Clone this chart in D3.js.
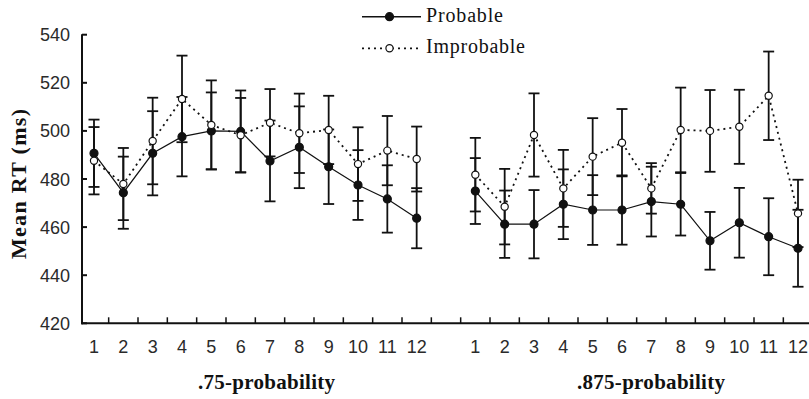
<!DOCTYPE html>
<html><head><meta charset="utf-8">
<script src="https://cdn.jsdelivr.net/npm/d3@7"></script>
<style>body{margin:0;background:#fff}svg{display:block}</style>
</head><body>
<svg id="c" width="809" height="399"></svg>
<script>
const blocks = ["1","2","3","4","5","6","7","8","9","10","11","12"];
const conditions = [".75-probability", ".875-probability"];
const seriesNames = ["Probable", "Improbable"];
const probable75   = [490.7, 474.3, 490.7, 497.6, 500.0, 499.8, 487.5, 493.2, 485.1, 477.5, 471.7, 463.7];
const improbable75 = [487.6, 477.9, 495.8, 513.3, 502.5, 498.2, 503.4, 499.0, 500.4, 486.2, 491.8, 488.3];
const probableErr75   = [14, 15, 17.5, 16.5, 16, 17, 16.8, 17, 15.5, 14.5, 14, 12.5];
const improbableErr75 = [14, 15, 18, 18, 18.5, 15.5, 14, 16.5, 14.2, 15.3, 14.4, 13.5];
const probable875   = [475.0, 461.2, 461.2, 469.5, 467.1, 467.1, 470.6, 469.5, 454.3, 461.8, 456.0, 451.2];
const improbable875 = [481.8, 468.5, 498.3, 476.1, 489.3, 495.1, 476.1, 500.4, 500.0, 501.7, 514.6, 465.7];
const probableErr875   = [13.7, 14, 14.2, 14.5, 14.5, 14.4, 14.5, 13, 12, 14.5, 16, 16];
const improbableErr875 = [15.3, 15.7, 17.3, 16, 16, 14, 10.5, 17.6, 17, 15.4, 18.4, 14];
const yTicks = [420, 440, 460, 480, 500, 520, 540];

const svg = d3.select("#c");
const ink = "#111";

// slots: 12 blocks, a gap, 12 blocks
const slots = [];
conditions.forEach((c, ci) => {
  blocks.forEach(b => slots.push(ci + "-" + b));
  if (ci === 0) slots.push("gap");
});
const x = d3.scalePoint().domain(slots).range([94, 798]);
const y = d3.scaleLinear().domain([420, 540]).range([323.3, 34.7]);

const groupsData = [
  {cond: 0, series: [
    {name: seriesNames[0], vals: probable75, err: probableErr75},
    {name: seriesNames[1], vals: improbable75, err: improbableErr75}]},
  {cond: 1, series: [
    {name: seriesNames[0], vals: probable875, err: probableErr875},
    {name: seriesNames[1], vals: improbable875, err: improbableErr875}]}
];

// axes
const axisX0 = 82, axisX1 = 809;
svg.append("line").attr("x1", axisX0).attr("x2", axisX0)
  .attr("y1", y(540) - 0.5).attr("y2", y(420) + 1)
  .attr("stroke", ink).attr("stroke-width", 2);
svg.append("line").attr("x1", axisX0 - 1).attr("x2", axisX1)
  .attr("y1", y(420)).attr("y2", y(420))
  .attr("stroke", ink).attr("stroke-width", 2);

// y ticks & labels
yTicks.forEach(t => {
  svg.append("line").attr("x1", axisX0).attr("x2", axisX0 + 5)
    .attr("y1", y(t)).attr("y2", y(t)).attr("stroke", ink).attr("stroke-width", 2);
  svg.append("text").attr("x", 70).attr("y", y(t) + 6.5)
    .attr("text-anchor", "end").attr("font-family", "Liberation Sans, Arial, sans-serif")
    .attr("font-size", 18).attr("fill", "#2a2a2a").text(t);
});

// x ticks between consecutive slots (inward)
for (let i = 0; i < slots.length - 1; i++) {
  const xm = (x(slots[i]) + x(slots[i + 1])) / 2;
  svg.append("line").attr("x1", xm).attr("x2", xm)
    .attr("y1", y(420)).attr("y2", y(420) - 6)
    .attr("stroke", ink).attr("stroke-width", 1.5);
}
// x tick labels
conditions.forEach((c, ci) => {
  blocks.forEach(b => {
    svg.append("text").attr("x", x(ci + "-" + b)).attr("y", 353)
      .attr("text-anchor", "middle").attr("font-family", "Liberation Sans, Arial, sans-serif")
      .attr("font-size", 18).attr("fill", "#2a2a2a").text(b);
  });
});
// condition labels
const condX = [198, 577], condW = [137, 148];
conditions.forEach((c, ci) => {
  svg.append("text").attr("x", condX[ci]).attr("y", 389)
    .attr("font-family", "Liberation Serif, Times New Roman, serif")
    .attr("font-weight", "bold").attr("font-size", 21)
    .attr("textLength", condW[ci]).attr("lengthAdjust", "spacing")
    .attr("fill", ink).text(c);
});

// y axis title
svg.append("text").attr("transform", "translate(26,184) rotate(-90)")
  .attr("text-anchor", "middle")
  .attr("font-family", "Liberation Serif, Times New Roman, serif")
  .attr("font-weight", "bold").attr("font-size", 22)
  .attr("textLength", 150).attr("lengthAdjust", "spacing")
  .attr("fill", ink).text("Mean RT (ms)");

// lines
const lineGen = d3.line().x(d => d.x).y(d => d.y);
groupsData.forEach(g => {
  g.series.forEach((s, si) => {
    const pts = s.vals.map((v, i) => ({x: x(g.cond + "-" + blocks[i]), y: y(v)}));
    svg.append("path").attr("d", lineGen(pts)).attr("fill", "none")
      .attr("stroke", ink)
      .attr("stroke-width", si === 0 ? 1.2 : 1.8)
      .attr("stroke-dasharray", si === 0 ? null : "2,4");
  });
});
// error bars
groupsData.forEach(g => {
  g.series.forEach(s => {
    s.vals.forEach((v, i) => {
      const cx = x(g.cond + "-" + blocks[i]);
      const e = s.err[i];
      const eg = svg.append("g").attr("stroke", ink).attr("stroke-width", 1.8);
      eg.append("line").attr("x1", cx).attr("x2", cx).attr("y1", y(v + e)).attr("y2", y(v - e));
      [v + e, v - e].forEach(w => {
        eg.append("line").attr("x1", cx - 5.5).attr("x2", cx + 5.5).attr("y1", y(w)).attr("y2", y(w));
      });
    });
  });
});
// markers
groupsData.forEach(g => {
  g.series.forEach((s, si) => {
    s.vals.forEach((v, i) => {
      svg.append("circle").attr("cx", x(g.cond + "-" + blocks[i])).attr("cy", y(v))
        .attr("r", si === 0 ? 4 : 3.6)
        .attr("fill", si === 0 ? ink : "#fff")
        .attr("stroke", ink).attr("stroke-width", 1.2);
    });
  });
});

// legend
const legY = [16.7, 48.3];
seriesNames.forEach((n, si) => {
  svg.append("line").attr("x1", 362).attr("x2", 421)
    .attr("y1", legY[si]).attr("y2", legY[si])
    .attr("stroke", ink).attr("stroke-width", si === 0 ? 1.6 : 1.8)
    .attr("stroke-dasharray", si === 0 ? null : "2,4");
  svg.append("circle").attr("cx", 389.5).attr("cy", legY[si])
    .attr("r", si === 0 ? 4 : 3.6).attr("fill", si === 0 ? ink : "#fff")
    .attr("stroke", ink).attr("stroke-width", 1.2);
  svg.append("text").attr("x", 426).attr("y", legY[si] + 5)
    .attr("font-family", "Liberation Serif, Times New Roman, serif")
    .attr("font-size", 20)
    .attr("textLength", si === 0 ? 77 : 99).attr("lengthAdjust", "spacing")
    .attr("fill", ink).text(n);
});
</script>
</body></html>
